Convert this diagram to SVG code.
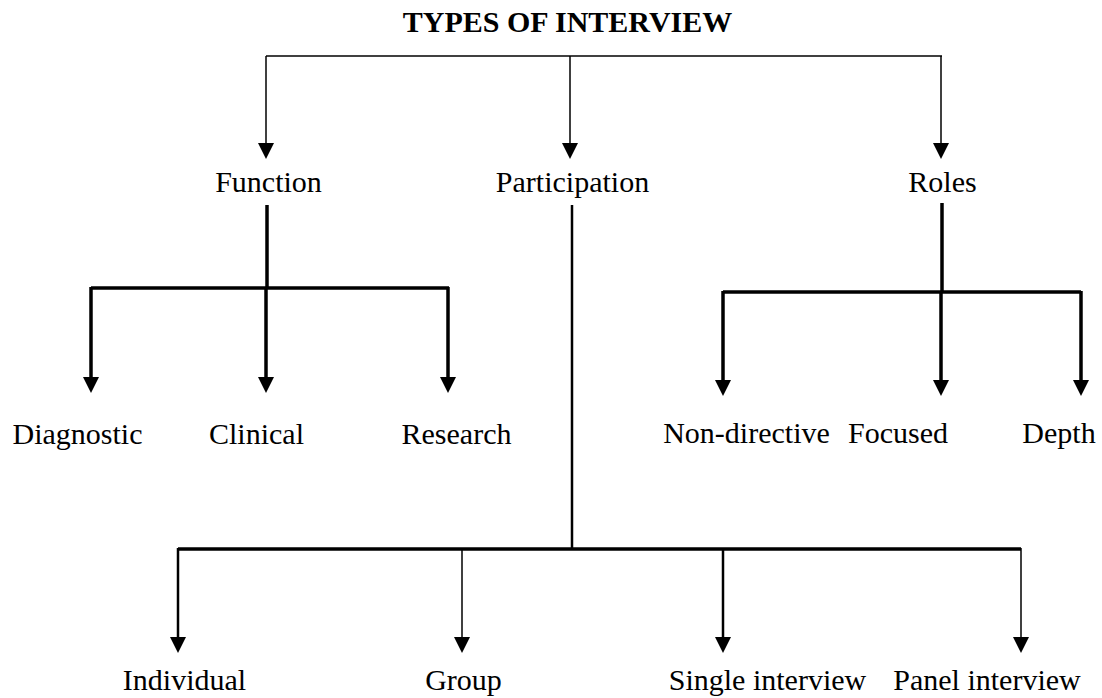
<svg xmlns="http://www.w3.org/2000/svg" width="1102" height="698" viewBox="0 0 1102 698">
<style>
text{font-family:"Liberation Serif","Times New Roman",serif;font-size:30px;fill:#000;text-anchor:middle}
.title{font-weight:bold}
line{stroke:#000;fill:none}
.t1{stroke-width:1.5}
.t2{stroke-width:2.5}
.t3{stroke-width:3.5}
.ah{fill:#000}
</style>
<defs>
<path id="ah" d="M-8,-16 L8,-16 L0,0 Z" class="ah"/>
</defs>
<rect width="1102" height="698" fill="#fff"/>
<g id="title"><text class="title" x="567.5" y="32">TYPES OF INTERVIEW</text></g>
<g id="connectors">
<line class="t1" x1="266" y1="56" x2="942" y2="56"/>
<line class="t1" x1="266" y1="56" x2="266" y2="145"/>
<line class="t1" x1="570" y1="56" x2="570" y2="145"/>
<line class="t1" x1="941" y1="56" x2="941" y2="145"/>
<use href="#ah" x="266" y="159"/>
<use href="#ah" x="570" y="159"/>
<use href="#ah" x="941" y="159"/>
<line class="t3" x1="267" y1="205" x2="267" y2="288"/>
<line class="t3" x1="91" y1="288" x2="449" y2="288"/>
<line class="t3" x1="91" y1="287" x2="91" y2="380"/>
<line class="t3" x1="266" y1="287" x2="266" y2="380"/>
<line class="t3" x1="448" y1="287" x2="448" y2="380"/>
<use href="#ah" x="91" y="393"/>
<use href="#ah" x="266" y="393"/>
<use href="#ah" x="448" y="393"/>
<line class="t3" x1="942" y1="203" x2="942" y2="292"/>
<line class="t3" x1="723" y1="292" x2="1081" y2="292"/>
<line class="t3" x1="723" y1="291" x2="723" y2="382"/>
<line class="t3" x1="941" y1="291" x2="941" y2="382"/>
<line class="t3" x1="1081" y1="291" x2="1081" y2="382"/>
<use href="#ah" x="723" y="396"/>
<use href="#ah" x="941" y="396"/>
<use href="#ah" x="1081" y="396"/>
<line class="t2" x1="572" y1="205" x2="572" y2="549"/>
<line class="t3" x1="178" y1="549" x2="1021" y2="549"/>
<line class="t2" x1="178" y1="548" x2="178" y2="640"/>
<line class="t1" x1="462" y1="548" x2="462" y2="640"/>
<line class="t2" x1="723" y1="548" x2="723" y2="640"/>
<line class="t1" x1="1021" y1="548" x2="1021" y2="640"/>
<use href="#ah" x="178" y="653"/>
<use href="#ah" x="462" y="653"/>
<use href="#ah" x="723" y="653"/>
<use href="#ah" x="1021" y="653"/>
</g>
<g id="function"><text x="268.5" y="192">Function</text></g>
<g id="participation"><text x="572.5" y="192">Participation</text></g>
<g id="roles"><text x="942.5" y="192">Roles</text></g>
<g id="diagnostic"><text x="77.5" y="444">Diagnostic</text></g>
<g id="clinical"><text x="256.5" y="444">Clinical</text></g>
<g id="research"><text x="456.5" y="444">Research</text></g>
<g id="non-directive"><text x="746.5" y="443">Non-directive</text></g>
<g id="focused"><text x="898" y="443">Focused</text></g>
<g id="depth"><text x="1059" y="443">Depth</text></g>
<g id="individual"><text x="184.5" y="690">Individual</text></g>
<g id="group"><text x="463.5" y="690">Group</text></g>
<g id="single-interview"><text x="767.5" y="690">Single interview</text></g>
<g id="panel-interview"><text x="987" y="690">Panel interview</text></g>
</svg>
